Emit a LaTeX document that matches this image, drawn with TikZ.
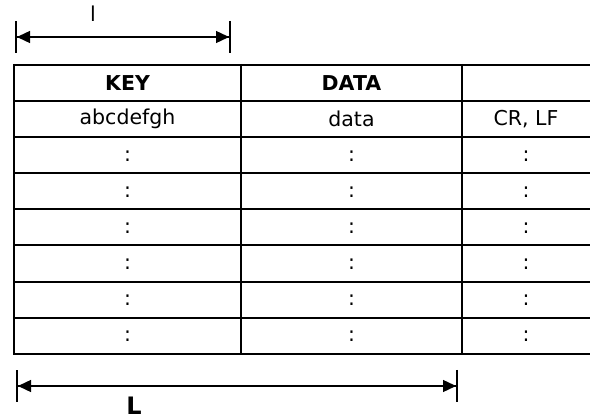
\documentclass[tikz,border=0pt]{standalone}
\usepackage{fontspec}
\setmainfont{DejaVu Sans}
\usetikzlibrary{arrows.meta}

\begin{document}
\begin{tikzpicture}[x=1pt, y=-1pt,
    txt/.style={font=\fontsize{20.5}{24}\selectfont},
    headtxt/.style={font=\fontsize{20.5}{24}\selectfont\bfseries},
    dimline/.style={line width=1.4pt,
      {Bar[width=32pt,line width=2pt]Triangle[length=13pt,width=12pt]}-{Triangle[length=13pt,width=12pt]Bar[width=32pt,line width=2pt]}}]
    \useasboundingbox (0,0) rectangle (590,419);
    % table grid
    \foreach \i in {0,...,8}
        \draw[line width=2pt] (13,65+36.1*\i) -- (592,65+36.1*\i);
    \foreach \c in {14,241,462}
        \draw[line width=2pt] (\c,64) -- (\c,355);
    % header
    \node[headtxt] (key) at (127.5,83) {KEY};
    \node[headtxt] (dat) at (351.5,83) {DATA};
    % first record
    \node[txt] (rk) at (127.5,119.2) {abcdefgh};
    \node[txt] (rd) at (351.5,119.2) {data};
    \node[txt] (re) at (526,119.2) {CR, LF};
    % remaining records
    \foreach \i in {2,...,7} {
        \node[txt] (k\i) at (127.5,84+36.1*\i) {:};
        \node[txt] (d\i) at (351.5,84+36.1*\i) {:};
        \node[txt] (e\i) at (526,84+36.1*\i) {:};
    }
    % dimensions
    \coordinate (la) at (15,37);
    \coordinate (lb) at (231,37);
    \draw[dimline] (la) -- (lb);
    \node[txt] (lbl) at (93,14) {l};
    \coordinate (La) at (16,386);
    \coordinate (Lb) at (458,386);
    \draw[dimline] (La) -- (Lb);
    \node[font=\fontsize{24}{28}\selectfont\bfseries, inner sep=0pt] (Lbl) at (134,406) {L};
\end{tikzpicture}
\end{document}
